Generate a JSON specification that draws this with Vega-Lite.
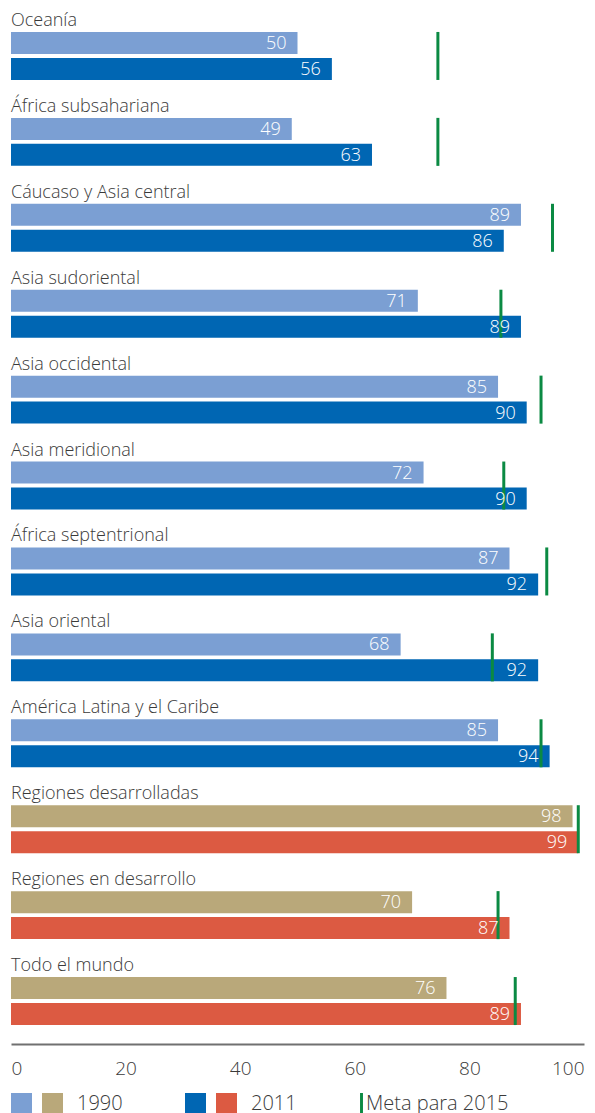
{
  "$schema": "https://vega.github.io/schema/vega-lite/v6.json",
  "width": 573,
  "height": 1031,
  "autosize": {"type": "none"},
  "padding": {"left": 11, "top": 13, "right": 11, "bottom": 69},
  "background": "white",
  "config": {
    "view": {"stroke": null},
    "font": "Open Sans",
    "axis": {"labelFont": "Open Sans", "labelFontWeight": 300},
    "legend": {"labelFont": "Open Sans", "titleFont": "Open Sans"}
  },
  "datasets": {
    "bars": [
      {"region": "Oceanía", "year": "1990", "tipo": "r", "value": 50},
      {"region": "Oceanía", "year": "2011", "tipo": "r", "value": 56},
      {"region": "África subsahariana", "year": "1990", "tipo": "r", "value": 49},
      {"region": "África subsahariana", "year": "2011", "tipo": "r", "value": 63},
      {"region": "Cáucaso y Asia central", "year": "1990", "tipo": "r", "value": 89},
      {"region": "Cáucaso y Asia central", "year": "2011", "tipo": "r", "value": 86},
      {"region": "Asia sudoriental", "year": "1990", "tipo": "r", "value": 71},
      {"region": "Asia sudoriental", "year": "2011", "tipo": "r", "value": 89},
      {"region": "Asia occidental", "year": "1990", "tipo": "r", "value": 85},
      {"region": "Asia occidental", "year": "2011", "tipo": "r", "value": 90},
      {"region": "Asia meridional", "year": "1990", "tipo": "r", "value": 72},
      {"region": "Asia meridional", "year": "2011", "tipo": "r", "value": 90},
      {"region": "África septentrional", "year": "1990", "tipo": "r", "value": 87},
      {"region": "África septentrional", "year": "2011", "tipo": "r", "value": 92},
      {"region": "Asia oriental", "year": "1990", "tipo": "r", "value": 68},
      {"region": "Asia oriental", "year": "2011", "tipo": "r", "value": 92},
      {"region": "América Latina y el Caribe", "year": "1990", "tipo": "r", "value": 85},
      {"region": "América Latina y el Caribe", "year": "2011", "tipo": "r", "value": 94},
      {"region": "Regiones desarrolladas", "year": "1990", "tipo": "g", "value": 98},
      {"region": "Regiones desarrolladas", "year": "2011", "tipo": "g", "value": 99},
      {"region": "Regiones en desarrollo", "year": "1990", "tipo": "g", "value": 70},
      {"region": "Regiones en desarrollo", "year": "2011", "tipo": "g", "value": 87},
      {"region": "Todo el mundo", "year": "1990", "tipo": "g", "value": 76},
      {"region": "Todo el mundo", "year": "2011", "tipo": "g", "value": 89}
    ],
    "regions": [
      {"region": "Oceanía", "target": 74.5},
      {"region": "África subsahariana", "target": 74.5},
      {"region": "Cáucaso y Asia central", "target": 94.5},
      {"region": "Asia sudoriental", "target": 85.5},
      {"region": "Asia occidental", "target": 92.5},
      {"region": "Asia meridional", "target": 86},
      {"region": "África septentrional", "target": 93.5},
      {"region": "Asia oriental", "target": 84},
      {"region": "América Latina y el Caribe", "target": 92.5},
      {"region": "Regiones desarrolladas", "target": 99},
      {"region": "Regiones en desarrollo", "target": 85},
      {"region": "Todo el mundo", "target": 88}
    ]
  },
  "resolve": {"scale": {"color": "independent"}, "legend": {"color": "independent"}},
  "layer": [
    {
      "data": {"name": "bars"},
      "transform": [{"filter": "datum.year == '1990'"}],
      "mark": {"type": "bar"},
      "encoding": {
        "y": {"field": "region", "type": "nominal", "axis": null,
              "scale": {"domain": ["Oceanía", "África subsahariana", "Cáucaso y Asia central", "Asia sudoriental", "Asia occidental", "Asia meridional", "África septentrional", "Asia oriental", "América Latina y el Caribe", "Regiones desarrolladas", "Regiones en desarrollo", "Todo el mundo"], "paddingInner": 0, "paddingOuter": 0}},
        "yOffset": {"field": "year", "type": "nominal", "scale": {"domain": ["1990", "2011"], "paddingInner": 0.1538, "paddingOuter": 0.7308}},
        "x": {"field": "value", "type": "quantitative", "title": null,
              "scale": {"domain": [0, 100], "nice": false, "zero": true},
              "axis": {"values": [0, 20, 40, 60, 80, 100], "grid": false, "ticks": false, "domain": true, "domainColor": "#707070", "domainWidth": 2, "labelFontSize": 19, "labelColor": "#3a3a3a", "labelPadding": 15, "labelFlush": true}},
        "color": {"field": "tipo", "type": "nominal",
                  "scale": {"domain": ["r", "g"], "range": ["#7b9fd3", "#b9a87a"]},
                  "legend": {"orient": "none", "legendX": 0, "legendY": 1080, "direction": "horizontal", "title": "1990", "titleOrient": "right", "titlePadding": 14, "titleFontSize": 20, "titleFontWeight": 300, "titleColor": "#3a3a3a", "labelExpr": "''", "labelOffset": 0, "columnPadding": 10, "symbolType": "square", "symbolSize": 441, "symbolStrokeWidth": 0, "padding": 0}}
      }
    },
    {
      "data": {"name": "bars"},
      "transform": [{"filter": "datum.year == '2011'"}],
      "mark": {"type": "bar"},
      "encoding": {
        "y": {"field": "region", "type": "nominal", "axis": null},
        "yOffset": {"field": "year", "type": "nominal"},
        "x": {"field": "value", "type": "quantitative", "title": null},
        "color": {"field": "tipo", "type": "nominal",
                  "scale": {"domain": ["r", "g"], "range": ["#0066b3", "#dc5a42"]},
                  "legend": {"orient": "none", "legendX": 174, "legendY": 1080, "direction": "horizontal", "title": "2011", "titleOrient": "right", "titlePadding": 14, "titleFontSize": 20, "titleFontWeight": 300, "titleColor": "#3a3a3a", "labelExpr": "''", "labelOffset": 0, "columnPadding": 10, "symbolType": "square", "symbolSize": 441, "symbolStrokeWidth": 0, "padding": 0}}
      }
    },
    {
      "data": {"name": "regions"},
      "mark": {"type": "tick", "orient": "vertical", "size": 48, "thickness": 3, "opacity": 1},
      "encoding": {
        "y": {"field": "region", "type": "nominal", "axis": null},
        "x": {"field": "target", "type": "quantitative", "title": null},
        "color": {"datum": "Meta para 2015", "type": "nominal",
                  "scale": {"range": ["#0b8a43"]},
                  "legend": {"orient": "none", "legendX": 340, "legendY": 1080, "title": null, "labelFontSize": 20, "labelFontWeight": 300, "labelColor": "#3a3a3a", "labelOffset": -6, "symbolType": "M-0.14,-1H0.14V1H-0.14Z", "symbolSize": 441, "symbolStrokeWidth": 0, "padding": 0}}
      }
    },
    {
      "data": {"name": "bars"},
      "mark": {"type": "text", "align": "right", "baseline": "middle", "dx": -11, "dy": 1, "fontSize": 18, "fontWeight": 300, "color": "white"},
      "encoding": {
        "y": {"field": "region", "type": "nominal", "axis": null},
        "yOffset": {"field": "year", "type": "nominal"},
        "x": {"field": "value", "type": "quantitative", "title": null},
        "text": {"field": "value", "type": "quantitative"}
      }
    },
    {
      "data": {"name": "regions"},
      "mark": {"type": "text", "align": "left", "baseline": "alphabetic", "dy": -30, "fontSize": 18, "fontWeight": 300, "color": "#3a3a3a"},
      "encoding": {
        "y": {"field": "region", "type": "nominal", "axis": null},
        "x": {"datum": 0, "type": "quantitative"},
        "text": {"field": "region", "type": "nominal"}
      }
    }
  ]
}
